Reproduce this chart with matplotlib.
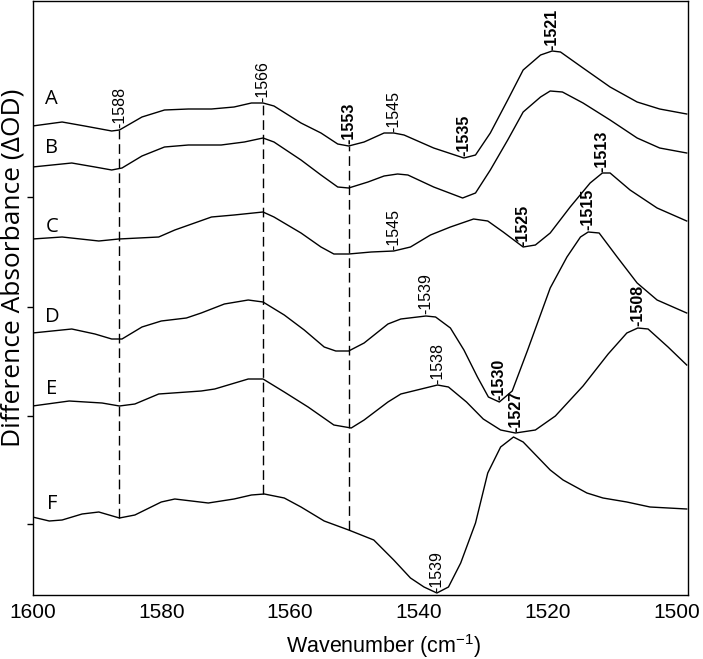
import numpy as np
import matplotlib.pyplot as plt

# difference spectra, arbitrary absorbance units,
# each trace given relative to its own value at 1600 cm-1
wn_a = [1600, 1595.4, 1591.9, 1587.7, 1586.5, 1583.0, 1579.5, 1575.8, 1572.2, 1568.7,
        1566.0, 1564.2, 1562.5, 1558.3, 1555.2, 1552.6, 1550.9, 1548.5, 1545.4, 1543.9,
        1542.3, 1537.7, 1533.0, 1531.2, 1528.9, 1526.2, 1523.8, 1521.1, 1519.3, 1518.0,
        1514.5, 1510.3, 1506.1, 1502.6, 1498.4]
dod_a = [0, 4, 0, -5, -4, 9, 16, 17, 17, 19, 23, 23, 20, 3, -7, -18, -20, -16, -7, -7,
         -9, -22, -32, -29, -7, 26, 56, 71, 75, 74, 58, 39, 24, 17, 12]

wn_b = [1600, 1593.9, 1590.3, 1587.7, 1586.1, 1583.0, 1579.5, 1575.8, 1570.7, 1567.1,
        1564.2, 1562.5, 1558.3, 1555.2, 1552.6, 1550.9, 1547.9, 1545.4, 1543.3, 1541.7,
        1537.7, 1533.2, 1531.2, 1528.9, 1526.2, 1523.8, 1521.1, 1519.6, 1517.7, 1514.5,
        1510.3, 1506.1, 1502.6, 1498.4]
dod_b = [0, 4, 0, -3, -1, 11, 20, 22, 22, 25, 29, 25, 7, -8, -20, -21, -15, -9, -7, -8,
         -20, -31, -26, -3, 27, 55, 70, 76, 75, 64, 47, 29, 19, 14]

wn_c = [1600, 1595.4, 1589.7, 1586.6, 1580.4, 1577.9, 1572.2, 1568.7, 1564.2, 1562.5,
        1558.3, 1555.2, 1553.2, 1550.9, 1547.4, 1543.9, 1541.3, 1538.2, 1535.1, 1531.5,
        1529.3, 1526.9, 1523.8, 1521.9, 1519.6, 1516.5, 1513.4, 1511.5, 1510.3, 1507.2,
        1503.0, 1498.4]
dod_c = [0, 2, -2, 0, 2, 9, 22, 24, 27, 22, 6, -8, -15, -15, -13, -12, -8, 4, 12, 20,
         18, 7, -8, -6, 6, 32, 56, 66, 66, 49, 31, 18]

wn_d = [1600, 1593.9, 1590.3, 1587.7, 1586.1, 1583.0, 1580.0, 1576.1, 1573.8, 1570.2,
        1566.5, 1564.2, 1560.9, 1557.8, 1554.7, 1552.9, 1550.9, 1548.5, 1544.8, 1542.8,
        1538.9, 1537.4, 1535.1, 1533.0, 1530.9, 1529.2, 1527.5, 1525.5, 1523.1, 1519.6,
        1517.0, 1514.9, 1513.7, 1512.0, 1509.2, 1506.1, 1503.0, 1498.4]
dod_d = [0, 4, -1, -6, -6, 6, 12, 15, 20, 29, 33, 31, 18, 3, -14, -18, -18, -10, 9, 14,
         17, 16, 5, -17, -44, -64, -69, -58, -17, 45, 76, 96, 101, 100, 76, 50, 33, 20]

wn_e = [1600, 1594.3, 1589.2, 1586.5, 1584.1, 1580.4, 1573.8, 1571.7, 1566.5, 1564.2,
        1560.9, 1557.2, 1553.2, 1550.5, 1548.5, 1544.8, 1542.8, 1537.1, 1535.4, 1532.6,
        1530.0, 1527.3, 1525.0, 1521.9, 1518.8, 1514.5, 1510.6, 1507.7, 1506.0, 1504.4,
        1501.3, 1498.4]
dod_e = [0, 5, 3, 0, 2, 12, 15, 17, 27, 27, 14, -1, -19, -22, -14, 4, 12, 21, 19, 4,
         -13, -24, -27, -24, -10, 20, 52, 73, 78, 77, 59, 41]

wn_f = [1600, 1597.4, 1595.4, 1592.3, 1589.7, 1586.5, 1584.1, 1580.0, 1577.9, 1572.7,
        1568.7, 1566.0, 1564.0, 1560.9, 1558.3, 1554.7, 1550.9, 1547.0, 1543.9, 1541.3,
        1539.2, 1537.2, 1535.4, 1533.5, 1531.2, 1529.3, 1527.3, 1525.3, 1523.8, 1519.6,
        1517.6, 1513.9, 1511.4, 1507.7, 1504.1, 1498.4]
dod_f = [0, -4, -3, 3, 5, -1, 2, 15, 18, 14, 18, 22, 23, 19, 10, -4, -13, -23, -43, -61,
         -70, -76, -70, -46, -6, 44, 70, 80, 75, 47, 37, 24, 19, 15, 10, 8]

trace_names = ['A', 'B', 'C', 'D', 'E', 'F']
trace_offsets = [469, 428, 356, 262, 189, 78]
name_lift = [27, 19, 12, 16, 17, 13]

# dashed guide lines (cm-1)
guide_lines = [1586.5, 1564.2, 1550.9]

# (trace, position, text, bold)
peak_labels = [
    ('A', 1586.5, '-1588', False),
    ('A', 1564.2, '-1566', False),
    ('A', 1550.9, '-1553', True),
    ('A', 1543.9, '-1545', False),
    ('A', 1533.0, '-1535', True),
    ('A', 1519.3, '-1521', True),
    ('C', 1543.9, '-1545', False),
    ('C', 1523.8, '-1525', True),
    ('C', 1511.5, '-1513', True),
    ('D', 1538.9, '-1539', False),
    ('D', 1527.5, '-1530', True),
    ('D', 1513.7, '-1515', True),
    ('E', 1537.1, '-1538', False),
    ('E', 1525.0, '-1527', True),
    ('E', 1506.0, '-1508', True),
    ('F', 1537.2, '-1539', False),
]

xticks = [1600, 1580, 1560, 1540, 1520, 1500]
yticks = [71, 179, 288, 398]


def draw_spectra():
    plt.rcParams['font.family'] = ['Liberation Sans', 'DejaVu Sans']
    plt.rcParams['mathtext.default'] = 'regular'

    fig = plt.figure(figsize=(7.03, 6.59), dpi=100)
    ax = fig.add_axes([32.5 / 703, 64 / 659, 655.5 / 703, 594 / 659])

    all_wn = [wn_a, wn_b, wn_c, wn_d, wn_e, wn_f]
    all_dod = [dod_a, dod_b, dod_c, dod_d, dod_e, dod_f]
    traces = {}
    for name, wn, dod, off, lift in zip(trace_names, all_wn, all_dod, trace_offsets, name_lift):
        x = np.array(wn)
        y = np.array(dod) + off
        ax.plot(x, y, color='black', lw=1.0)
        traces[name] = (x, y)
        ax.text(1597, off + lift, name, family=['Open Sans', 'DejaVu Sans'],
                fontsize=14.5, ha='center', va='center')

    def at(name, w):
        x, y = traces[name]
        return np.interp(w, x[::-1], y[::-1])

    for w in guide_lines:
        ax.plot([w, w], [at('F', w), at('A', w)], color='black', lw=1.0,
                ls=(0, (7, 3.5)))

    for name, w, txt, bold in peak_labels:
        ax.text(w, at(name, w) + 1.5, txt, rotation=90, ha='center', va='bottom',
                fontsize=11.5, fontweight='bold' if bold else 'normal')

    ax.set_xlim(1600, 1498.2)
    ax.set_ylim(0, 594)
    ax.set_xticks(xticks)
    ax.set_xticklabels([str(t) for t in xticks])
    ax.set_yticks(yticks)
    ax.tick_params(axis='x', length=0, pad=6, labelsize=15)
    ax.tick_params(axis='y', direction='out', length=4, width=1, labelleft=False)
    for s in ax.spines.values():
        s.set_linewidth(1.0)

    ax.set_xlabel('Wavenumber (cm$^{-1}$)', fontsize=15.5)
    ax.xaxis.set_label_coords(0.535, -0.063)
    ax.set_ylabel('Difference Absorbance (ΔOD)', family=['Open Sans', 'DejaVu Sans'],
                  fontsize=19)
    ax.yaxis.set_label_coords(-0.011, 0.551)

    fig.savefig('out.png', dpi=100)


if __name__ == '__main__':
    draw_spectra()
